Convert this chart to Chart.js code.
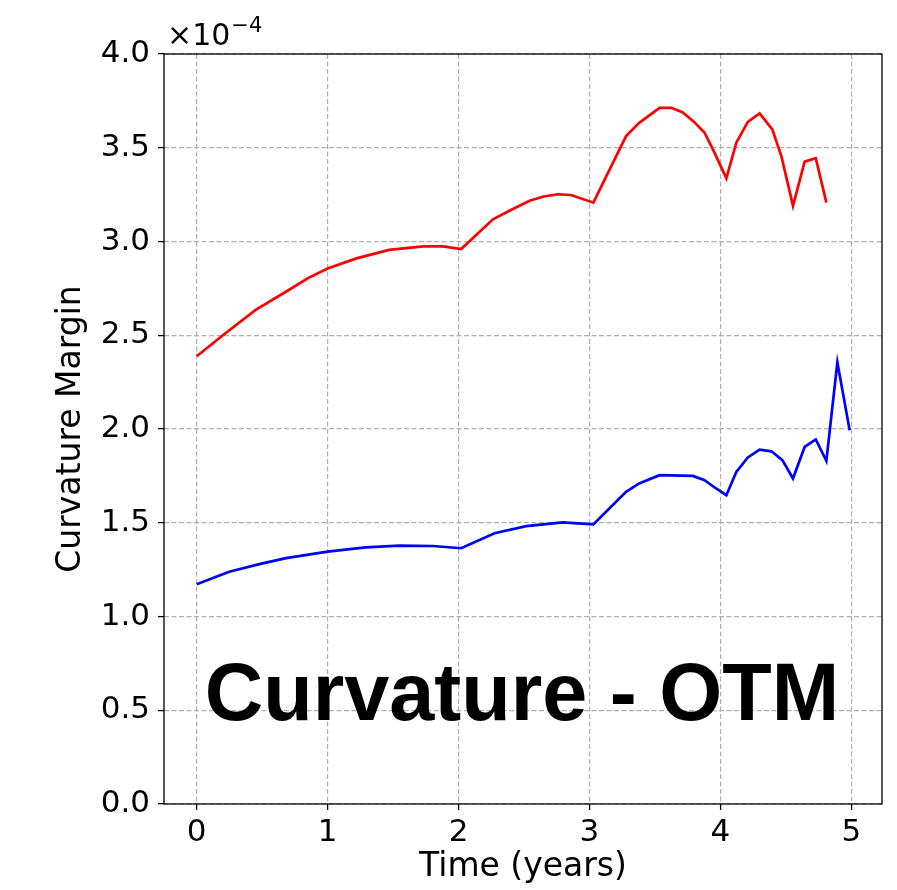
<!DOCTYPE html>
<html>
<head>
<meta charset="utf-8">
<title>Curvature - OTM</title>
<script src="https://cdn.jsdelivr.net/npm/chart.js@4"></script>
<style>
  html, body { margin: 0; padding: 0; background: #ffffff; }
  #wrap { width: 897px; height: 890px; }
</style>
</head>
<body>
<div id="wrap"><canvas id="curvatureChart" width="897" height="890"></canvas></div>
<script>
// Upper curvature margin (red), time in years, values in units of 1e-4
const timeRed = [
  0, 0.2, 0.45, 0.7, 0.85, 1.0, 1.22, 1.47, 1.73, 1.88, 2.02,
  2.263, 2.4, 2.543, 2.65, 2.758, 2.86, 3.03,
  3.28, 3.38, 3.536, 3.625, 3.71, 3.8, 3.88, 3.956, 4.046,
  4.122, 4.21, 4.3, 4.397, 4.466, 4.555, 4.644, 4.729, 4.81
];
const marginRed = [
  2.388, 2.50, 2.635, 2.74, 2.805, 2.856, 2.91, 2.955, 2.974, 2.974, 2.96,
  3.118, 3.168, 3.217, 3.24, 3.252, 3.248, 3.207,
  3.562, 3.633, 3.713, 3.713, 3.69, 3.638, 3.58, 3.473, 3.337,
  3.527, 3.638, 3.683, 3.598, 3.456, 3.19, 3.426, 3.444, 3.207
];

// Lower curvature margin (blue)
const timeBlue = [
  0, 0.248, 0.478, 0.682, 1.0, 1.29, 1.548, 1.803, 2.02,
  2.275, 2.517, 2.797, 3.03,
  3.28, 3.38, 3.536, 3.79, 3.88, 3.956, 4.046,
  4.122, 4.21, 4.3, 4.39, 4.474, 4.555, 4.644, 4.729, 4.81, 4.894, 4.988
];
const marginBlue = [
  1.172, 1.239, 1.279, 1.311, 1.346, 1.369, 1.378, 1.376, 1.364,
  1.444, 1.482, 1.502, 1.491,
  1.665, 1.71, 1.754, 1.75, 1.727, 1.688, 1.647,
  1.771, 1.848, 1.89, 1.881, 1.834, 1.736, 1.904, 1.944, 1.83, 2.356, 1.993
];

const xTickValues = [0, 1, 2, 3, 4, 5];
const yTickValues = [0, 0.5, 1.0, 1.5, 2.0, 2.5, 3.0, 3.5, 4.0];

const toPoints = (xs, ys) => xs.map((x, i) => ({ x: x, y: ys[i] }));

// frame, exponent label and the big caption
const decorations = {
  id: "decorations",
  beforeDraw(chart) {
    const ctx = chart.ctx;
    ctx.save();
    ctx.fillStyle = "#ffffff";
    ctx.fillRect(0, 0, chart.width, chart.height);
    ctx.restore();
  },
  afterDraw(chart) {
    const { ctx, chartArea } = chart;
    ctx.save();
    ctx.strokeStyle = "#000000";
    ctx.lineWidth = 1.3;
    ctx.strokeRect(chartArea.left, chartArea.top,
      chartArea.right - chartArea.left, chartArea.bottom - chartArea.top);

    // x10^-4 offset text
    ctx.fillStyle = "#000000";
    ctx.textBaseline = "alphabetic";
    ctx.textAlign = "left";
    ctx.font = "30px 'DejaVu Sans'";
    const base = "\u00d710";
    ctx.fillText(base, chartArea.left + 3, chartArea.top - 9);
    const w = ctx.measureText(base).width;
    ctx.font = "21px 'DejaVu Sans'";
    ctx.fillText("\u22124", chartArea.left + 3 + w + 1, chartArea.top - 22);

    // caption
    ctx.font = "bold 81px 'Liberation Sans', Arial, sans-serif";
    ctx.textAlign = "center";
    ctx.fillText("Curvature - OTM", 522, 720);
    ctx.restore();
  }
};

const ctx = document.getElementById("curvatureChart").getContext("2d");

new Chart(ctx, {
  type: "line",
  data: {
    datasets: [
      {
        label: "Upper",
        data: toPoints(timeRed, marginRed),
        borderColor: "#ff0000",
        borderWidth: 2.7,
        pointRadius: 0,
        tension: 0,
        fill: false,
      },
      {
        label: "Lower",
        data: toPoints(timeBlue, marginBlue),
        borderColor: "#0000ff",
        borderWidth: 2.7,
        pointRadius: 0,
        tension: 0,
        fill: false,
      },
    ],
  },
  options: {
    responsive: false,
    animation: false,
    devicePixelRatio: 1,
    layout: {
      padding: { top: 54, right: 15, left: 0, bottom: 0 },
    },
    plugins: {
      legend: { display: false },
      tooltip: { enabled: false },
    },
    scales: {
      x: {
        type: "linear",
        min: -0.25,
        max: 5.235,
        afterFit: (scale) => { scale.height = 86; },
        afterBuildTicks: (scale) => {
          scale.ticks = xTickValues.map((v) => ({ value: v }));
        },
        ticks: {
          color: "#000000",
          padding: 4,
          maxRotation: 0,
          font: { family: "'DejaVu Sans'", size: 31 },
          callback: (v) => String(v),
        },
        grid: {
          color: "#b0b0b0",
          lineWidth: 1.2,
          tickColor: "#000000",
          tickLength: 6,
          tickWidth: 1.3,
        },
        border: { display: false, dash: [5, 2.5] },
        title: {
          display: true,
          text: "Time (years)",
          color: "#000000",
          font: { family: "'DejaVu Sans'", size: 33 },
          padding: { top: 0, bottom: 3 },
        },
      },
      y: {
        type: "linear",
        min: 0,
        max: 4,
        afterFit: (scale) => { scale.width = 164; },
        afterBuildTicks: (scale) => {
          scale.ticks = yTickValues.map((v) => ({ value: v }));
        },
        ticks: {
          color: "#000000",
          padding: 8,
          font: { family: "'DejaVu Sans'", size: 31 },
          callback: (v) => Number(v).toFixed(1),
        },
        grid: {
          color: "#b0b0b0",
          lineWidth: 1.2,
          tickColor: "#000000",
          tickLength: 6,
          tickWidth: 1.3,
        },
        border: { display: false, dash: [5, 2.5] },
        title: {
          display: true,
          text: "Curvature Margin",
          color: "#000000",
          font: { family: "'DejaVu Sans'", size: 33 },
          padding: { top: 52, bottom: 0 },
        },
      },
    },
  },
  plugins: [decorations],
});
</script>
</body>
</html>
